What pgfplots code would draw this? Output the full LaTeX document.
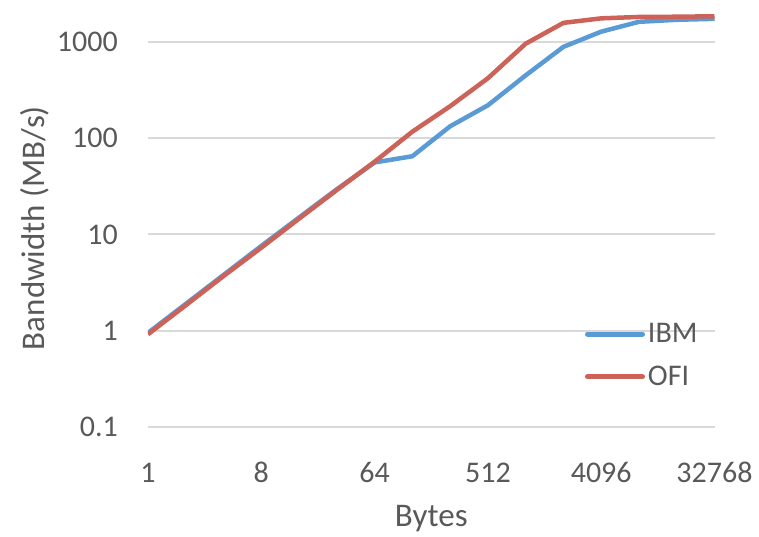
\documentclass[border=0pt]{standalone}
\usepackage{fontspec}
\setmainfont{Carlito}
\usepackage{pgfplots}
\pgfplotsset{compat=1.18}
\definecolor{ibm}{RGB}{91,155,213}
\definecolor{ofi}{RGB}{204,98,88}
\definecolor{txt}{RGB}{89,89,89}
\definecolor{grd}{RGB}{217,217,217}
\begin{document}
\begin{tikzpicture}
\path[use as bounding box] (-148bp,-110bp) rectangle (611bp,427bp);
\begin{axis}[
  at={(0,0)}, anchor=south west,
  scale only axis, width=566.5bp, height=427bp,
  xmode=log, log basis x=2, ymode=log,
  xmin=1, xmax=32768, ymin=0.1, ymax=2730,
  xtick={1,8,64,512,4096,32768}, xticklabels={1,8,64,512,4096,32768},
  ytick={0.1,1,10,100,1000}, yticklabels={0.1,1,10,100,1000},
  minor xtick={}, minor ytick={},
  ymajorgrids, grid style={grd, line width=2bp},
  axis line style={draw=none}, major tick length=0pt, minor tick length=0pt,
  /pgf/number format/assume math mode=true,
  tick label style={font=\fontsize{30bp}{36bp}\selectfont, text=txt, inner sep=0pt},
  xticklabel style={anchor=base, yshift=-55bp},
  yticklabel style={anchor=east, xshift=-30bp},
  xlabel={Bytes}, ylabel={Bandwidth (MB/s)},
  label style={font=\fontsize{33bp}{40bp}\selectfont, text=txt, inner sep=0pt},
  xlabel style={at={(axis description cs:0.5,-0.232)}, anchor=base},
  ylabel style={at={(axis description cs:-0.1995,0.466)}, anchor=center},
  legend style={draw=none, fill=none, at={(axis description cs:0.7714,0.1674)}, anchor=west,
    inner sep=0pt, outer sep=0pt, font=\fontsize{30bp}{36bp}\selectfont, text=txt,
    row sep=22bp, nodes={inner sep=0pt}, column sep=3bp},
  legend image code/.code={\draw[#1, line width=5bp, line cap=round] (0bp,0bp) -- (55bp,0bp);},
  legend cell align=left,
]
\addplot[ibm, line width=4.5bp, line join=round, mark=none] coordinates {
(1,0.95) (2,1.9) (4,3.8) (8,7.6) (16,15) (32,29.5) (64,56) (128,65) (256,133) (512,220)
(1024,450) (2048,890) (4096,1280) (8192,1620) (16384,1700) (32768,1740)};
\addlegendentry{IBM}
\addplot[ofi, line width=4.5bp, line join=round, mark=none] coordinates {
(1,0.92) (2,1.84) (4,3.7) (8,7.3) (16,14.6) (32,29) (64,57) (128,117) (256,215) (512,420)
(1024,960) (2048,1580) (4096,1760) (8192,1820) (16384,1830) (32768,1850)};
\addlegendentry{OFI}
\end{axis}
\end{tikzpicture}
\end{document}
